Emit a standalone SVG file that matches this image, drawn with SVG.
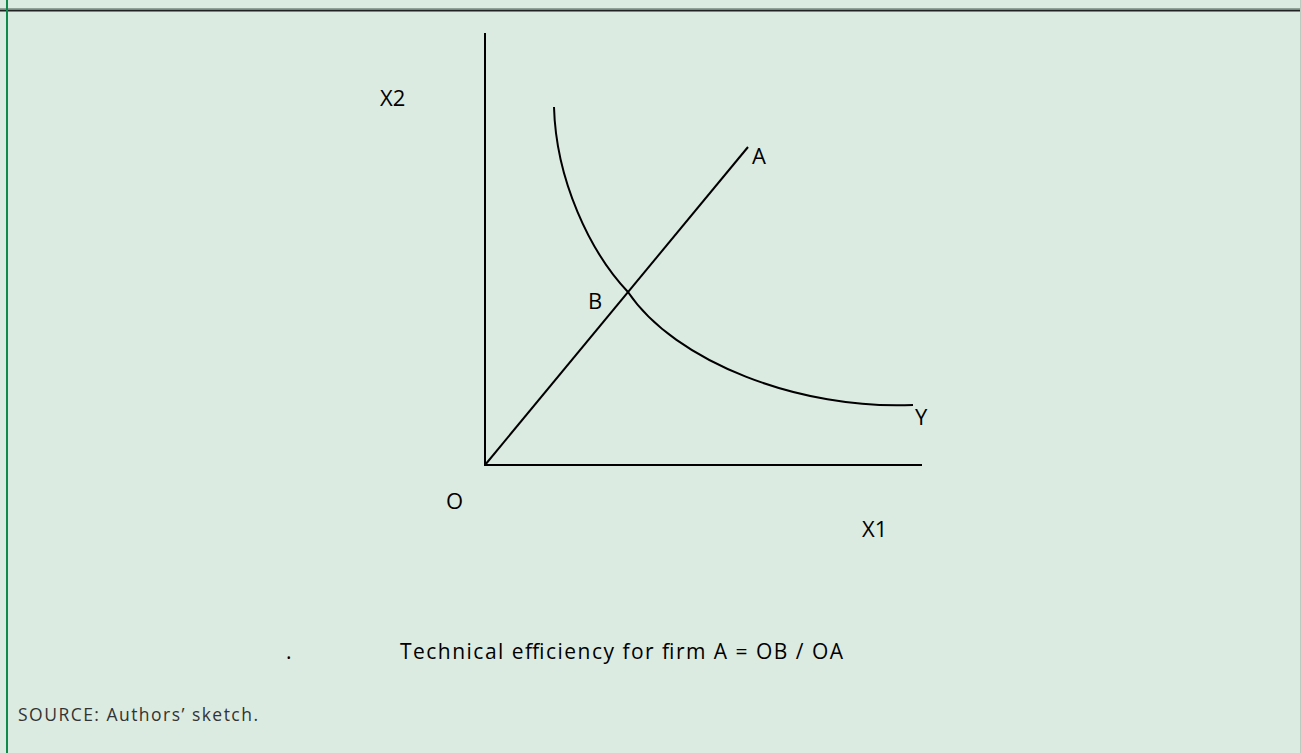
<svg xmlns="http://www.w3.org/2000/svg" width="1301" height="753" viewBox="0 0 1301 753">
<style>
.ln{fill:none;stroke:#000;stroke-width:2}
.lb{font-family:"Open Sans","Noto Sans",sans-serif;font-size:22px;fill:#000}
.cap{font-family:"Open Sans","Noto Sans",sans-serif;font-size:21px;fill:#000}
.src{font-family:"Open Sans","Noto Sans",sans-serif;font-size:17.5px;fill:#333}
</style>
<rect x="0" y="0" width="1301" height="753" fill="#dcebe1"/>
<line x1="0" y1="8.5" x2="1301" y2="8.5" stroke="#8fa398" stroke-width="1"/>
<line x1="0" y1="10.5" x2="1301" y2="10.5" stroke="#222" stroke-width="2"/>
<line x1="7" y1="0" x2="7" y2="753" stroke="#0e8a4a" stroke-width="2"/>
<line x1="1300.5" y1="0" x2="1300.5" y2="753" stroke="#b8cbbd" stroke-width="1"/>
<g id="connectors">
<path class="ln" d="M485,33 V465 H922"/>
<path class="ln" d="M485,465 L748,147"/>
<path class="ln" d="M554,107 C556,180 590,252 628,292 C675,362 800,410 913,405"/>
</g>
<g id="label-x2"><text class="lb" x="380" y="106">X2</text></g>
<g id="label-a"><text class="lb" x="752" y="164">A</text></g>
<g id="label-b"><text class="lb" x="588" y="309">B</text></g>
<g id="label-y"><text class="lb" x="915" y="425">Y</text></g>
<g id="label-o"><text class="lb" x="446" y="509">O</text></g>
<g id="label-x1"><text class="lb" x="862" y="537">X1</text></g>
<g id="caption">
<text class="cap" x="286" y="659">.</text>
<text class="cap" x="400" y="659" textLength="443" lengthAdjust="spacing">Technical efficiency for firm A =  OB / OA</text>
</g>
<g id="source"><text class="src" x="18" y="721" textLength="240" lengthAdjust="spacing">SOURCE:  Authors’ sketch.</text></g>
</svg>
